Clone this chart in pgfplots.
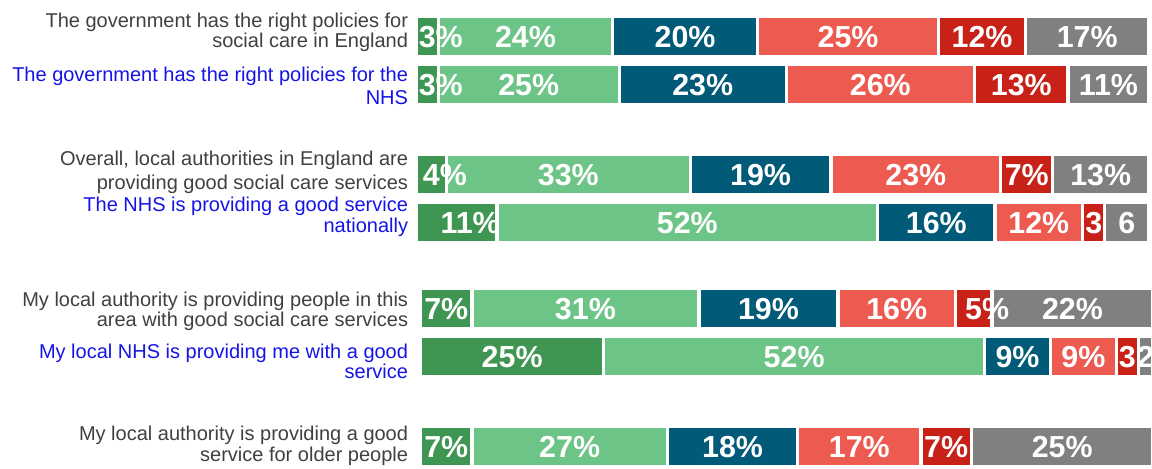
\documentclass[border=0pt]{standalone}
\usepackage{pgfplots}
\pgfplotsset{compat=1.18}
\usepackage{pgfplotstable}
\usepackage{fontspec}
\setmainfont{Liberation Sans}

\definecolor{cA}{HTML}{3E9652}
\definecolor{cB}{HTML}{6CC486}
\definecolor{cC}{HTML}{005A78}
\definecolor{cD}{HTML}{EC5A50}
\definecolor{cE}{HTML}{C82118}
\definecolor{cF}{HTML}{808080}
\definecolor{txtgray}{HTML}{404040}
\definecolor{txtblue}{HTML}{1414E6}

\DeclareRobustCommand\rp{\rlap{\%}}
\newcommand\lab[4]{\fontsize{15}{#2}\selectfont\color{#1}\begin{tabular}{@{}r@{}}#3\\#4\end{tabular}}

% y = bar centre (px from top, negative); v1..v6 = shares; l1..l6 = printed labels
\pgfplotstableread{
y v1 v2 v3 v4 v5 v6 l1 l2 l3 l4 l5 l6
-36.65 3.0 23.8 19.8 24.7 11.9 16.8 {3\rp} 24\% 20\% 25\% 12\% 17\%
-84.35 3.0 24.7 22.8 25.7 12.8 11.0 {3\rp} 25\% 23\% 26\% 13\% 11\%
-174.35 4.1 33.3 19.2 23.2 7.1 13.1 {4\rp} 33\% 19\% 23\% 7\% 13\%
-222.3 11.0 52.0 16.0 12.0 3.0 6.0 {11\rp} 52\% 16\% 12\% 3 6
}\toptab

\pgfplotstableread{
y v1 v2 v3 v4 v5 v6 l1 l2 l3 l4 l5 l6
-308.35 7.0 31.0 19.0 16.0 5.0 22.0 7\% 31\% 19\% 16\% {5\rp} 22\%
-356.35 25.0 52.0 9.0 9.0 3.0 2.0 25\% 52\% 9\% 9\% 3 2
-446.65 7.0 26.7 17.8 16.8 6.9 24.8 7\% 27\% 18\% 17\% 7\% 25\%
}\bottab

\pgfplotsset{
  base/.style={
    scale only axis, width=549.3pt, height=351pt,
    xmin=0, xmax=100, ymin=-468, ymax=0, enlargelimits=false,
    axis line style={draw=none}, xtick=\empty,
    major tick length=0pt, clip=false, anchor=south west,
  },
  seg/.style={fill=#1, draw=white, line width=2.5pt},
  lbl/.style={draw=none, mark=none, nodes near coords={\pgfplotspointmeta},
    point meta=explicit symbolic,
    nodes near coords style={anchor=center, inner sep=0pt, text=white,
      font=\bfseries\fontsize{22.8}{22.8}\selectfont,
      text height=16.3pt, text depth=0pt}},
}

\begin{document}
\begin{tikzpicture}
\useasboundingbox (0,0) rectangle (864pt,-351pt);
\clip (0,0) rectangle (864pt,-351pt);

% ---- top group (rows 1-4) ----
\begin{axis}[base, xbar stacked, bar width=40, at={(312.225pt,-351pt)},
  ytick={-217.9,-172.7,-88.5,-33.4},
  yticklabels={
    {\lab{txtblue}{15.45}{The NHS is providing a good service}{nationally}},
    {\lab{txtgray}{17.5}{Overall, local authorities in England are}{providing good social care services}},
    {\lab{txtblue}{16.95}{The government has the right policies for the}{NHS}},
    {\lab{txtgray}{14.25}{The government has the right policies for}{social care in England}}},
  yticklabel style={inner sep=0pt, anchor=east, xshift=-6pt}]
\addplot[seg=cA] table[x=v1,y=y]{\toptab};
\addplot[seg=cB] table[x=v2,y=y]{\toptab};
\addplot[seg=cC] table[x=v3,y=y]{\toptab};
\addplot[seg=cD] table[x=v4,y=y]{\toptab};
\addplot[seg=cE] table[x=v5,y=y]{\toptab};
\addplot[seg=cF] table[x=v6,y=y]{\toptab};
\end{axis}
\begin{axis}[base, at={(312.225pt,-351pt)}, ytick=\empty]
\addplot[lbl] table[x expr={\thisrow{v1}/2}, y=y, meta=l1]{\toptab};
\addplot[lbl] table[x expr={\thisrow{v1}+\thisrow{v2}/2}, y=y, meta=l2]{\toptab};
\addplot[lbl] table[x expr={\thisrow{v1}+\thisrow{v2}+\thisrow{v3}/2}, y=y, meta=l3]{\toptab};
\addplot[lbl] table[x expr={\thisrow{v1}+\thisrow{v2}+\thisrow{v3}+\thisrow{v4}/2}, y=y, meta=l4]{\toptab};
\addplot[lbl] table[x expr={\thisrow{v1}+\thisrow{v2}+\thisrow{v3}+\thisrow{v4}+\thisrow{v5}/2}, y=y, meta=l5]{\toptab};
\addplot[lbl] table[x expr={\thisrow{v1}+\thisrow{v2}+\thisrow{v3}+\thisrow{v4}+\thisrow{v5}+\thisrow{v6}/2}, y=y, meta=l6]{\toptab};
\end{axis}

% ---- bottom group (rows 5-7) ----
\begin{axis}[base, xbar stacked, bar width=40, at={(315.45pt,-351pt)},
  ytick={-446.3,-363.8,-312.4},
  yticklabels={
    {\lab{txtgray}{15.75}{My local authority is providing a good}{service for older people}},
    {\lab{txtblue}{13.8}{My local NHS is providing me with a good}{service}},
    {\lab{txtgray}{14.25}{My local authority is providing people in this}{area with good social care services}}},
  yticklabel style={inner sep=0pt, anchor=east, xshift=-9.2pt}]
\addplot[seg=cA] table[x=v1,y=y]{\bottab};
\addplot[seg=cB] table[x=v2,y=y]{\bottab};
\addplot[seg=cC] table[x=v3,y=y]{\bottab};
\addplot[seg=cD] table[x=v4,y=y]{\bottab};
\addplot[seg=cE] table[x=v5,y=y]{\bottab};
\addplot[seg=cF] table[x=v6,y=y]{\bottab};
\end{axis}
\begin{axis}[base, at={(315.45pt,-351pt)}, ytick=\empty]
\addplot[lbl] table[x expr={\thisrow{v1}/2}, y=y, meta=l1]{\bottab};
\addplot[lbl] table[x expr={\thisrow{v1}+\thisrow{v2}/2}, y=y, meta=l2]{\bottab};
\addplot[lbl] table[x expr={\thisrow{v1}+\thisrow{v2}+\thisrow{v3}/2}, y=y, meta=l3]{\bottab};
\addplot[lbl] table[x expr={\thisrow{v1}+\thisrow{v2}+\thisrow{v3}+\thisrow{v4}/2}, y=y, meta=l4]{\bottab};
\addplot[lbl] table[x expr={\thisrow{v1}+\thisrow{v2}+\thisrow{v3}+\thisrow{v4}+\thisrow{v5}/2}, y=y, meta=l5]{\bottab};
\addplot[lbl] table[x expr={\thisrow{v1}+\thisrow{v2}+\thisrow{v3}+\thisrow{v4}+\thisrow{v5}+\thisrow{v6}/2}, y=y, meta=l6]{\bottab};
\end{axis}
\end{tikzpicture}
\end{document}
